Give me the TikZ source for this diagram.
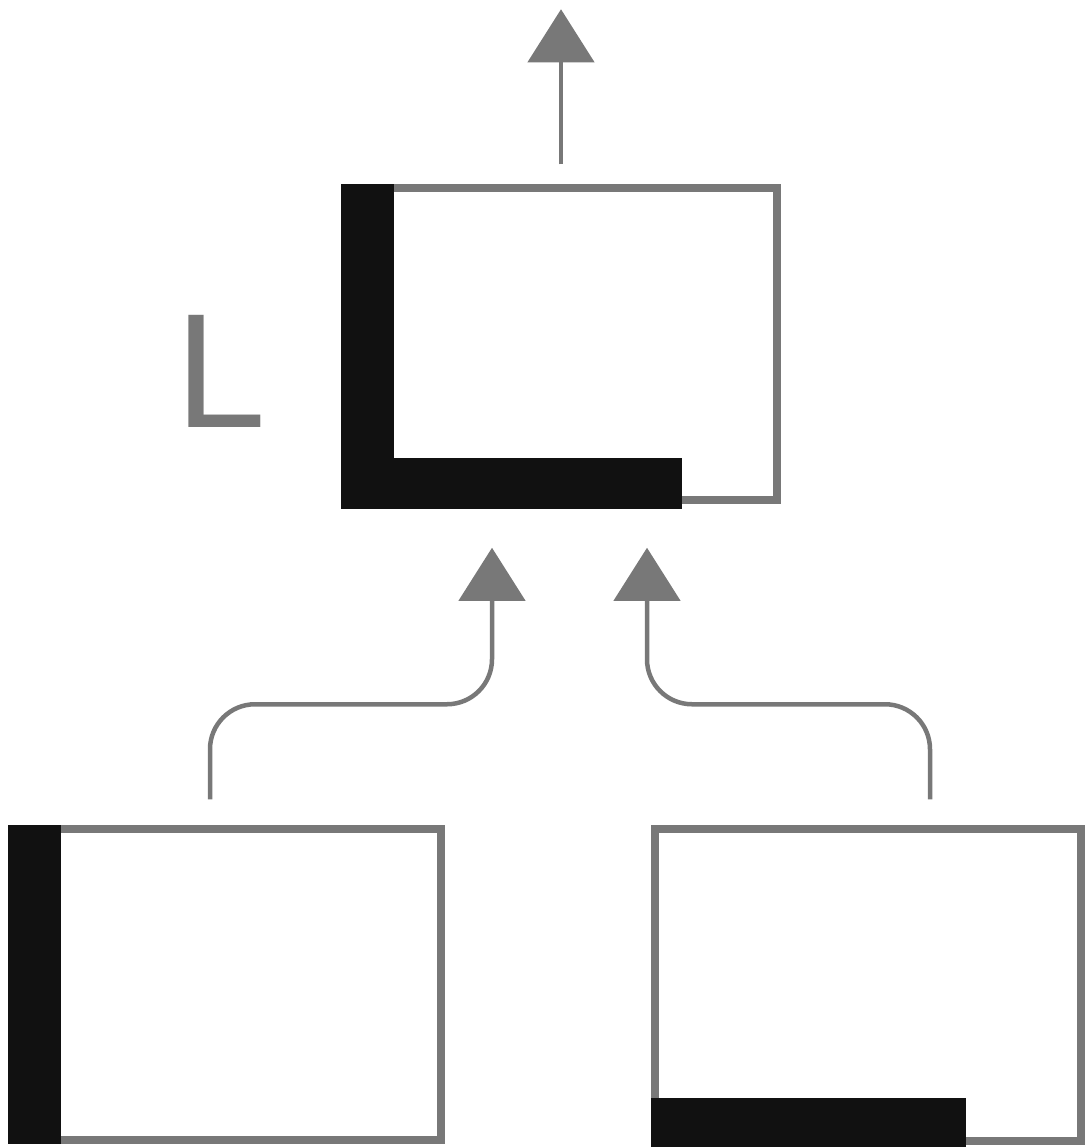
\documentclass[tikz,border=0pt]{standalone}
\usepackage{fontspec}
\setmainfont{Liberation Sans}
\usetikzlibrary{arrows.meta}
\definecolor{frame}{HTML}{787878}
\definecolor{ink}{HTML}{111111}
\begin{document}
\begin{tikzpicture}[
    box/.style={draw=frame, line width=0.15cm, rectangle, inner sep=0pt, fill=white},
    flow/.style={draw=frame, line width=0.09cm, -{Triangle[width=1.32cm,length=1.06cm]}}
]
        \useasboundingbox (0,0) rectangle (21.78,-22.94);
        \node[box, minimum width=8.64cm, minimum height=6.24cm] (comb) at (11.22,-6.88) {};
        \node[box, minimum width=8.58cm, minimum height=6.22cm] (vert) at (4.53,-19.69) {};
        \node[box, minimum width=8.52cm, minimum height=6.24cm] (horiz) at (17.36,-19.70) {};
        \node[anchor=base west, inner sep=0pt, text=frame, font=\fontsize{92.8}{92.8}\selectfont] (name) at (3.5,-8.54) {L};

        \fill[ink] (comb.north west) rectangle ([xshift=1.06cm,yshift=-0.1cm]comb.south west);
        \fill[ink] ([yshift=0.92cm]comb.south west) rectangle ([xshift=6.82cm,yshift=-0.1cm]comb.south west);
        \fill[ink] (vert.north west) rectangle ([xshift=1.06cm]vert.south west);
        \fill[ink] ([yshift=0.94cm]horiz.south west) rectangle ([xshift=6.3cm,yshift=-0.06cm]horiz.south west);

        \coordinate (out) at ([yshift=3.5cm]comb.north);
        \draw[flow] ([yshift=0.4cm]comb.north) -- (out);
        \draw[flow, rounded corners=0.9cm] ([xshift=-0.33cm,yshift=0.52cm]vert.north) -- ++(0,1.9) -| ([xshift=-1.38cm,yshift=-0.88cm]comb.south);
        \draw[flow, rounded corners=0.9cm] ([xshift=1.24cm,yshift=0.52cm]horiz.north) -- ++(0,1.9) -| ([xshift=1.72cm,yshift=-0.88cm]comb.south);
    \end{tikzpicture}
\end{document}
